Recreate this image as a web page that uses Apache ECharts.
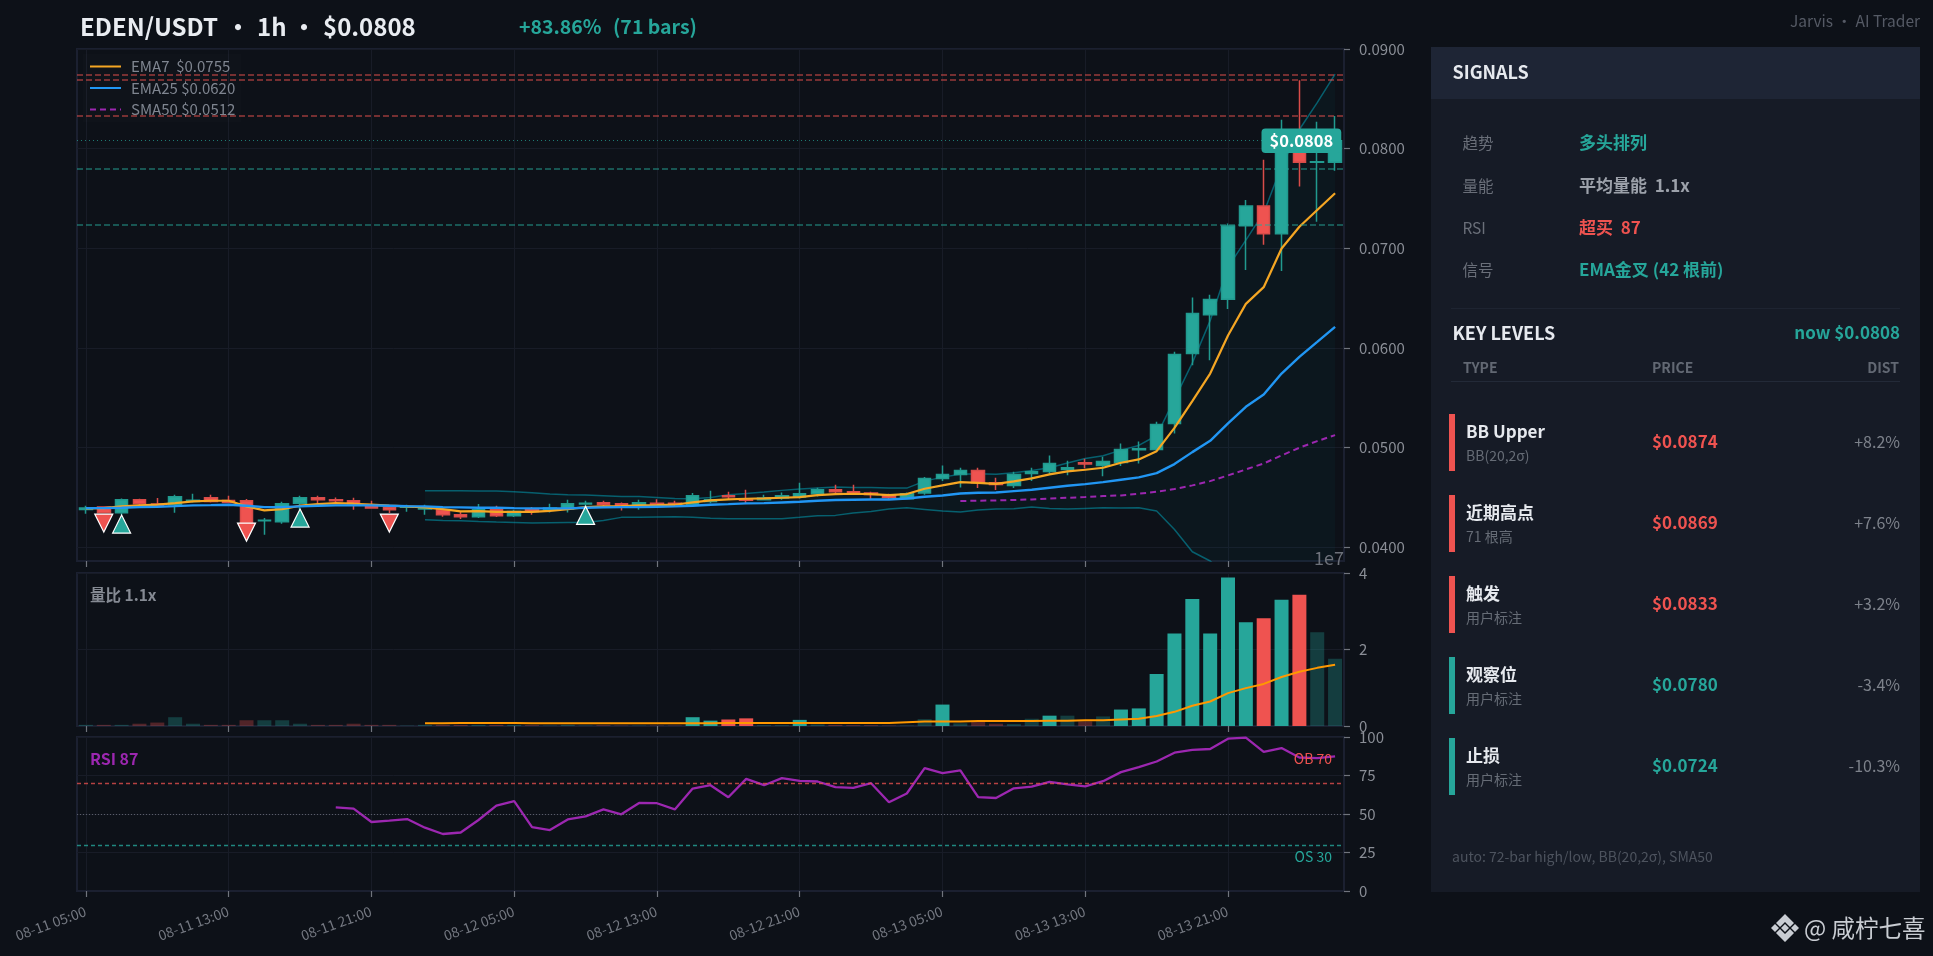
<!DOCTYPE html>
<html><head><meta charset="utf-8"><style>html,body{margin:0;padding:0;background:#0d1118;overflow:hidden}#c{width:1933px;height:956px}</style>
<script src="https://cdn.jsdelivr.net/npm/echarts@6/dist/echarts.min.js"></script></head><body><div id="c"></div><script>
// ---- data ----
var opens =[.04378,.04401,.04344,.04475,.04431,.04425,.04458,.04495,.04468,.04465,.04263,.04254,.04441,.04495,.04475,.04465,.04408,.04398,.04400,.04381,.04375,.04324,.04304,.04375,.04314,.04381,.04375,.04381,.04431,.04445,.04435,.04408,.04441,.04441,.04425,.04458,.04515,.04478,.04475,.04492,.04502,.04535,.04575,.04555,.04542,.04525,.04485,.04542,.04689,.04729,.04769,.04645,.04619,.04739,.04759,.04779,.04846,.04819,.04849,.04977,.04980,.05241,.05943,.06333,.06488,.07226,.07424,.07145,.0808,.07862,.07862];
var closes=[.04391,.04344,.04475,.04435,.04415,.04505,.04470,.04458,.04448,.04241,.04268,.04435,.04495,.04475,.04465,.04435,.04391,.04375,.04405,.04401,.04324,.04304,.04375,.04314,.04358,.04358,.04391,.04435,.04441,.04425,.04415,.04445,.04425,.04425,.04515,.04475,.04505,.04470,.04492,.04515,.04535,.04575,.04555,.04532,.04528,.04498,.04535,.04689,.04729,.04769,.04645,.04629,.04729,.04756,.04839,.04796,.04833,.04860,.04980,.04987,.05231,.05933,.06345,.06485,.07222,.07424,.07145,.0808,.07862,.07868,.0808];
var highs =[.04415,.04405,.04488,.04485,.04492,.04525,.04535,.04525,.04515,.04482,.04291,.04455,.04515,.04515,.04498,.04495,.04465,.04412,.04425,.04425,.04385,.04358,.04431,.04415,.04375,.04401,.04435,.04475,.04465,.04465,.04448,.04475,.04481,.04465,.04542,.04565,.04555,.04575,.04525,.04548,.04645,.04595,.04625,.04625,.04555,.04535,.04548,.04703,.04819,.04796,.04796,.04696,.04756,.04796,.04920,.04866,.04886,.04906,.05040,.05060,.05258,.05960,.06505,.06532,.07249,.07485,.07889,.0829,.08687,.08269,.08327];
var lows  =[.04334,.04338,.04321,.04408,.04408,.04344,.04448,.04448,.04440,.04230,.04123,.04234,.04375,.04441,.04441,.04375,.04388,.04341,.04355,.04324,.04304,.04281,.04291,.04301,.04301,.04324,.04348,.04348,.04410,.04408,.04368,.04375,.04415,.04408,.04401,.04441,.04475,.04441,.04468,.04475,.04488,.04508,.04535,.04525,.04482,.04482,.04482,.04525,.04662,.04599,.04592,.04572,.04592,.04662,.04729,.04722,.04789,.04712,.04813,.04840,.04963,.05140,.05826,.05876,.06391,.06781,.07034,.06771,.0762,.07266,.07778];
var ema7  =[.04388,.04391,.04408,.04418,.04425,.04441,.04458,.04465,.04465,.04408,.04368,.04381,.04415,.04431,.04441,.04435,.04425,.04415,.04408,.04398,.04381,.04358,.04361,.04354,.04354,.04354,.04364,.04381,.04401,.04408,.04411,.04418,.04421,.04425,.04448,.04468,.04478,.04485,.04488,.04495,.04502,.04522,.04532,.04535,.04532,.04522,.04532,.04585,.04619,.04652,.04645,.04635,.04659,.04689,.04729,.04759,.04776,.04796,.04846,.04880,.04963,.05197,.05465,.05742,.06124,.06441,.06609,.06997,.07215,.07384,.07552];
var ema25 =[.04391,.04391,.04395,.04401,.04405,.04411,.04418,.04421,.04425,.04415,.04401,.04401,.04408,.04415,.04418,.04418,.04418,.04415,.04411,.04408,.04401,.04398,.04395,.04395,.04391,.04388,.04388,.04388,.04395,.04398,.04401,.04401,.04405,.04408,.04415,.04425,.04431,.04438,.04441,.04448,.04455,.04465,.04472,.04475,.04478,.04478,.04488,.04505,.04518,.04538,.04545,.04548,.04562,.04575,.04595,.04615,.04632,.04652,.04676,.04699,.04742,.04833,.04953,.05067,.05241,.05408,.05532,.05742,.05910,.06060,.06211];
var sma50Start=49;
var sma50 =[.04462,.04465,.04468,.04472,.04478,.04488,.04495,.04502,.04512,.04518,.04535,.04555,.04582,.04619,.04662,.04719,.04779,.04839,.04920,.04997,.05064,.05124];
var bbStart=19;
var bbUpper=[.04565,.04565,.04565,.04562,.04562,.04555,.04545,.04532,.04525,.04522,.04515,.04508,.04508,.04498,.04488,.04485,.04498,.04525,.04538,.04552,.04569,.04582,.04592,.04602,.04599,.04599,.04592,.04592,.04662,.04702,.04732,.04736,.04732,.04746,.04769,.04796,.04843,.04890,.04916,.04973,.05020,.05120,.05482,.05849,.06273,.06811,.07081,.07357,.07822,.08192,.08461,.08747];
var bbLower=[.04274,.04267,.04264,.04257,.04251,.04247,.04241,.04244,.04247,.04247,.04267,.04298,.04298,.04301,.04304,.04298,.04288,.04284,.04284,.04284,.04284,.04298,.04314,.04318,.04341,.04358,.04381,.04395,.04378,.04361,.04351,.04371,.04381,.04385,.04401,.04388,.04381,.04388,.04395,.04391,.04395,.04361,.04177,.03953,.03860,.03700,.03650,.03600,.03550,.03500,.03480,.03460];
var volumes=[.03,.03,.03,.06,.09,.23,.06,.03,.03,.15,.15,.15,.06,.03,.03,.06,.03,.03,.01,.03,.03,.03,.03,.03,.03,.02,.01,.03,.01,.02,.01,.01,.01,.01,.23,.14,.17,.20,.02,.02,.16,.04,.03,.02,.02,.01,.01,.18,.56,.07,.11,.06,.05,.19,.27,.27,.12,.25,.43,.46,1.36,2.42,3.32,2.42,3.88,2.71,2.82,3.30,3.43,2.45,1.76];
var brightVolumeBars=[34,35,36,37,40,48,54,58,59,60,61,62,63,64,65,66,67,68];
var volMaStart=19;
var volMa=[.07,.07,.08,.08,.08,.08,.07,.07,.07,.07,.07,.07,.07,.07,.07,.07,.07,.08,.08,.08,.08,.08,.08,.08,.08,.08,.08,.10,.12,.12,.12,.13,.13,.13,.13,.14,.14,.15,.15,.17,.19,.26,.37,.53,.64,.86,.99,1.10,1.28,1.42,1.52,1.60];
var rsiStart=14;
var rsi=[54.3,53.5,44.8,45.7,46.7,41.1,37.0,38.0,46.1,55.4,58.3,41.5,39.6,46.5,48.5,53.0,49.8,57.2,57.0,53.0,66.5,68.7,60.9,72.8,68.7,73.3,71.5,71.1,67.4,67.0,70.0,57.6,63.3,79.8,76.5,78.3,60.9,60.4,66.7,67.8,70.9,69.3,68.0,71.3,77.2,80.4,84.1,89.8,91.7,92.2,98.9,99.6,90.4,92.8,86.7,86.3,87.4];
var sellBars=[1,9,17], sellPrices=[.04241,.04150,.04241];
var buyBars=[2,12,28],  buyPrices=[.04231,.04291,.04318];
var lastPrice=0.0808;
var signals=[["趋势","多头排列","up"],["量能","平均量能  1.1x","flat"],["RSI","超买  87","down"],["信号","EMA金叉 (42 根前)","up"]];
var levelNames=["BB Upper","近期高点","触发","观察位","止损"];
var levelNotes=["BB(20,2σ)","71 根高","用户标注","用户标注","用户标注"];
var levelPrices=[.0874,.0869,.0833,.0780,.0724];
var levelDists=["+8.2%","+7.6%","+3.2%","-3.4%","-10.3%"];
var categories=[];(function(){var d=11,h=5;for(var i=0;i<71;i++){categories.push("08-"+d+" "+(h<10?"0":"")+h+":00");h++;if(h==24){h=0;d++}}})();

// ---- style ----
var UP="#26a69a",DOWN="#ef5350",FONT='"Noto Sans CJK SC","Noto Sans"',GRIDC="#181c27",BORDER="#1b2030",AXT="#8a8e96";
function pad(start,arr){var o=[];for(var i=0;i<71;i++)o.push(i<start?'-':arr[i-start]);return o}
function T(x,y,text,size,fill,weight,align){return {type:'text',x:x,y:y,z:50,silent:true,style:{text:text,fill:fill,font:(weight||400)+' '+size+'px '+FONT,textAlign:align||'left',textVerticalAlign:'middle'}}}
function R(x,y,w,h,fill,z){return {type:'rect',z:z||40,silent:true,shape:{x:x,y:y,width:w,height:h},style:{fill:fill}}}
function P(pts,fill){return {type:'polygon',z:50,silent:true,shape:{points:pts},style:{fill:fill}}}
var tone={up:UP,down:DOWN,flat:"#9ca1aa"};
var g=[
 T(80,27,"EDEN/USDT",24,"#e9ecf1",700),
 T(238,27,"·",24,"#e9ecf1",700,'center'),
 T(257,27,"1h",24,"#e9ecf1",700),
 T(304,27,"·",24,"#e9ecf1",700,'center'),
 T(323,27,"$0.0808",24,"#e9ecf1",700),
 T(519,27,"+83.86%",19.5,UP,600),
 T(613,27,"(71 bars)",19.5,UP,600),
 T(1920,21,"Jarvis · AI Trader",15.5,"#555a65",400,'right'),
 T(90,595,"量比 1.1x",15.5,"#858a93",600),
 T(90,759,"RSI 87",16,"#9c27b0",600),
 T(1332,759,"OB 70",14,DOWN,400,'right'),
 T(1332,857,"OS 30",14,UP,400,'right'),
 T(1344,558,"1e7",18,"#6d717a",400,'right'),
 R(1431,47,489,845,"#161b26"),
 R(1431,47,489,52,"#1e2535",41),
 T(1452.5,72,"SIGNALS",18,"#e6e9ee",600),
 R(1451,308,449,1,"#1e2431",41),
 T(1452.5,333,"KEY LEVELS",18,"#e6e9ee",600),
 T(1900,333,"now $0.0808",17,UP,600,'right'),
 T(1463,368,"TYPE",14,"#626873",600),
 T(1652,368,"PRICE",14,"#626873",600),
 T(1899,368,"DIST",14,"#626873",600,'right'),
 R(1451,381,449,1,"#232a38",41),
 T(1452,857,"auto: 72-bar high/low, BB(20,2σ), SMA50",14,"#4d535e"),
 T(1804,928,"@ 咸柠七喜",23.5,"#c9cdd3"),
 P([[1785,914],[1794,923],[1790,927],[1785,922],[1780,927],[1776,923]],"#c9cdd3"),
 P([[1785,942],[1794,933],[1790,929],[1785,934],[1780,929],[1776,933]],"#c9cdd3"),
 P([[1785,924],[1789,928],[1785,932],[1781,928]],"#c9cdd3"),
 P([[1775,924],[1779,928],[1775,932],[1771,928]],"#c9cdd3"),
 P([[1795,924],[1799,928],[1795,932],[1791,928]],"#c9cdd3")
];
signals.forEach(function(s,i){var y=[143,186,228,270][i];
 g.push(T(1462.5,y,s[0],15.5,"#6a6f79"));
 g.push(T(1579,y,s[1],17,tone[s[2]],600));});
levelNames.forEach(function(n,i){var y=414+81*i,col=i<3?DOWN:UP,ym=y+28;
 g.push(R(1449,y,6,57,col,42));
 g.push(T(1466,ym-10,n,17,"#e6e9ee",600));
 g.push(T(1466,ym+14,levelNotes[i],14,"#666c76"));
 g.push(T(1652,ym,"$"+levelPrices[i].toFixed(4),17,col,600));
 g.push(T(1900,ym,levelDists[i],16,"#7d828b",400,'right'));});

var candle=categories.map(function(c,i){return [opens[i],closes[i],lows[i],highs[i]]});
var volData=volumes.map(function(v,i){var up=closes[i]>=opens[i];return {value:v,itemStyle:{color:up?UP:DOWN,opacity:brightVolumeBars.indexOf(i)>=0?1:.3}}});
var bbDiff=bbUpper.map(function(u,i){return u-bbLower[i]});
var marks=sellBars.map(function(b,i){return {value:[b,sellPrices[i]],symbolRotate:180,itemStyle:{color:DOWN}}}).concat(buyBars.map(function(b,i){return {value:[b,buyPrices[i]],itemStyle:{color:UP}}}));

function xAxis(idx,label){return {type:'category',gridIndex:idx,data:categories,boundaryGap:true,
 axisLine:{show:true,lineStyle:{color:BORDER,width:2}},
 axisTick:{show:true,interval:7,alignWithLabel:true,length:6,lineStyle:{color:"#70747d",width:1.2}},
 splitLine:{show:true,interval:7,alignWithLabel:true,lineStyle:{color:GRIDC,width:1}},
 axisLabel:label?{show:true,interval:7,rotate:20,color:"#747881",fontSize:14,fontFamily:FONT,margin:12,align:'right',verticalAlign:'top',padding:[0,3,0,0]}:{show:false}}}
function yAxis(idx,o){var a={type:'value',gridIndex:idx,position:'right',
 axisLine:{show:true,lineStyle:{color:BORDER,width:2}},
 axisTick:{show:true,length:6,lineStyle:{color:"#70747d",width:1.2}},
 splitLine:{show:true,lineStyle:{color:GRIDC,width:1}},
 axisLabel:{color:AXT,fontSize:15,fontFamily:FONT,margin:15,showMinLabel:o.showMinLabel!==false,align:'left',formatter:o.formatter}};
 for(var k in o)if(k!='formatter'&&k!='showMinLabel')a[k]=o[k];return a}
function ml(color,type,w){return {color:color,type:type,width:w||1.5,opacity:.62}}

var option={backgroundColor:"#0d1118",animation:false,textStyle:{fontFamily:FONT},
 legend:{show:true,orient:'vertical',left:83,top:54,padding:[5,6,5,6],itemWidth:31,itemHeight:10,itemGap:6.5,backgroundColor:'rgba(255,255,255,0.012)',
  itemStyle:{opacity:0},
  textStyle:{color:"#7f8590",fontSize:15,fontFamily:FONT,padding:[0,0,0,5]},
  data:["EMA7  $0.0755","EMA25 $0.0620","SMA50 $0.0512"]},
 grid:[{left:77,width:1267,top:49,height:512,show:true,borderColor:BORDER,borderWidth:2,backgroundColor:"#0d1118"},
       {left:77,width:1267,top:573,height:153,show:true,borderColor:BORDER,borderWidth:2,backgroundColor:"#0d1118"},
       {left:77,width:1267,top:737,height:154,show:true,borderColor:BORDER,borderWidth:2,backgroundColor:"#0d1118"}],
 xAxis:[xAxis(0,false),xAxis(1,false),xAxis(2,true)],
 yAxis:[yAxis(0,{min:.0386,max:.09,splitNumber:5,showMinLabel:false,formatter:function(v){return v.toFixed(4)}}),
        yAxis(1,{min:0,max:4,interval:2}),
        yAxis(2,{min:0,max:100,interval:25})],
 graphic:{elements:g},
 series:[
  {type:'line',name:'bbBase',stack:'bb',xAxisIndex:0,yAxisIndex:0,data:pad(bbStart,bbLower),symbol:'none',silent:true,lineStyle:{color:'#00acc1',opacity:.5,width:1.5},z:2},
  {type:'line',name:'bbBand',stack:'bb',xAxisIndex:0,yAxisIndex:0,data:pad(bbStart,bbDiff),symbol:'none',silent:true,lineStyle:{color:'#00acc1',opacity:.5,width:1.5},areaStyle:{color:'#00acc1',opacity:.045},z:2},
  {type:'candlestick',name:'k',xAxisIndex:0,yAxisIndex:0,data:candle,barWidth:13,itemStyle:{color:UP,color0:DOWN,borderColor:'#219a8f',borderColor0:'#d94c49',borderWidth:1.5},z:3,
   markLine:{silent:true,symbol:'none',precision:5,label:{show:false},animation:false,data:[
    {yAxis:levelPrices[0],lineStyle:ml(DOWN,[6,3])},{yAxis:levelPrices[1],lineStyle:ml(DOWN,[6,3])},{yAxis:levelPrices[2],lineStyle:ml(DOWN,[6,3])},
    {yAxis:lastPrice,lineStyle:{color:UP,type:[1,3],width:1,opacity:.7}},
    {yAxis:levelPrices[3],lineStyle:ml(UP,[6,3])},{yAxis:levelPrices[4],lineStyle:ml(UP,[6,3])}]},
  },
  {type:'line',name:"EMA7  $0.0755",xAxisIndex:0,yAxisIndex:0,data:ema7,symbol:'none',lineStyle:{color:'#f5a623',width:2.2},z:4},
  {type:'line',name:"EMA25 $0.0620",xAxisIndex:0,yAxisIndex:0,data:ema25,symbol:'none',lineStyle:{color:'#2196f3',width:2.4},z:5},
  {type:'line',name:"SMA50 $0.0512",xAxisIndex:0,yAxisIndex:0,data:pad(sma50Start,sma50),symbol:'none',lineStyle:{color:'#9c27b0',width:2,type:[6,4]},z:4},
  {type:'scatter',name:'signal',xAxisIndex:0,yAxisIndex:0,data:marks,symbol:'triangle',symbolSize:18,itemStyle:{borderColor:'#fff',borderWidth:1.2,opacity:1},z:6,
   markPoint:{silent:true,symbol:'rect',symbolSize:0,z:20,label:{show:true,position:'inside',offset:[2,0],formatter:'$'+lastPrice.toFixed(4),color:'#fff',fontSize:16.5,fontWeight:600,fontFamily:FONT,backgroundColor:UP,borderRadius:4,padding:[4,8,4,8]},data:[{coord:[categories[68],lastPrice]}]}},
  {type:'bar',name:'vol',xAxisIndex:1,yAxisIndex:1,data:volData,barWidth:14,z:2},
  {type:'line',name:'volma',xAxisIndex:1,yAxisIndex:1,data:pad(volMaStart,volMa),symbol:'none',lineStyle:{color:'#ff9800',width:2},z:3},
  {type:'line',name:'rsi',xAxisIndex:2,yAxisIndex:2,data:pad(rsiStart,rsi),symbol:'none',lineStyle:{color:'#9c27b0',width:2.3},z:3,
   markLine:{silent:true,symbol:'none',label:{show:false},animation:false,data:[
    {yAxis:70,lineStyle:{color:DOWN,type:[4,3],width:1.3,opacity:.75}},
    {yAxis:50,lineStyle:{color:'#787b86',type:[1,2],width:1,opacity:.7}},
    {yAxis:30,lineStyle:{color:UP,type:[4,3],width:1.3,opacity:.8}}]}}
 ]};
var chart=echarts.init(document.getElementById('c'),null,{width:1933,height:956});
chart.setOption(option);
</script></body></html>
